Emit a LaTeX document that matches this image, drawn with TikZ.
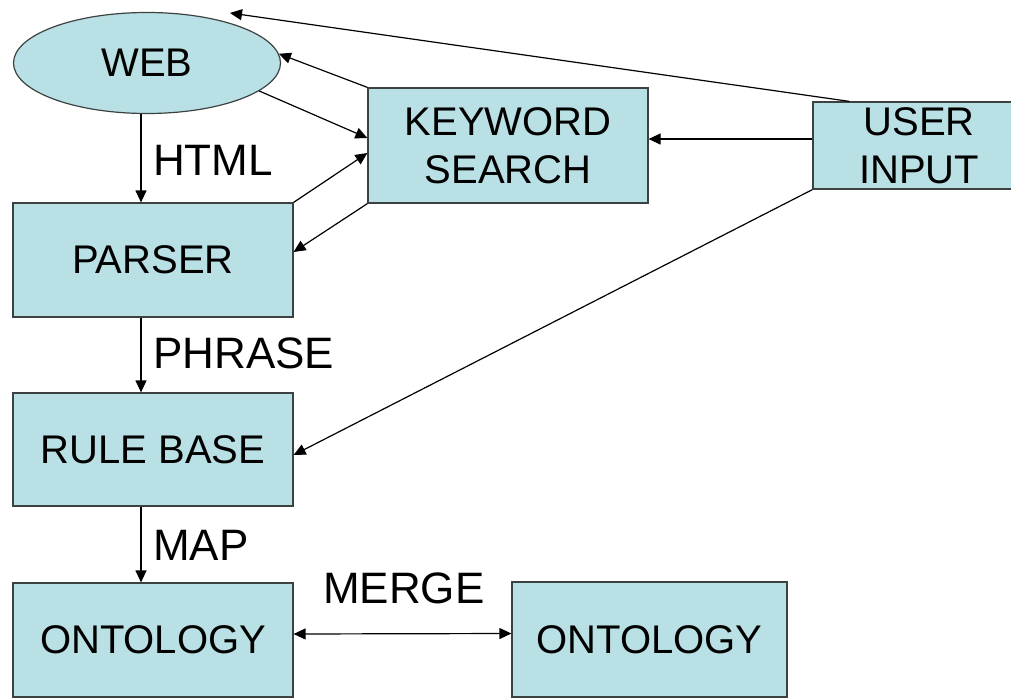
\documentclass[tikz,border=0pt]{standalone}
\usepackage{fontspec}
\setmainfont{Liberation Sans}
\usetikzlibrary{arrows.meta,shapes.geometric}
\definecolor{boxfill}{RGB}{185,224,228}
\definecolor{boxline}{RGB}{60,66,66}
\tikzset{
  block/.style={draw=boxline, fill=boxfill, line width=1.2pt, rectangle,
    inner sep=0pt, align=center, font=\fontsize{40}{48}\selectfont},
  cloud/.style={draw=boxline, fill=boxfill, line width=1.2pt, ellipse,
    inner sep=0pt, font=\fontsize{40}{48}\selectfont},
  flow/.style={draw=black, line width=1.2pt, -{Triangle[length=12pt,width=11pt]}},
  both/.style={draw=black, line width=1.2pt, {Triangle[length=12pt,width=11pt]}-{Triangle[length=12pt,width=11pt]}},
  tag/.style={anchor=base west, inner sep=0pt, font=\fontsize{44}{50}\selectfont}
}
\begin{document}
\begin{tikzpicture}[x=1pt,y=-1pt]
  \useasboundingbox (0,0) rectangle (1011,698);

  % boxes
  \node[cloud, minimum width=267pt, minimum height=101pt] (web) at (147,63) {WEB};
  \node[block, minimum width=280pt, minimum height=115pt] (kw) at (508,145.5) {KEYWORD\\SEARCH};
  \node[block, minimum width=212pt, minimum height=87pt] (user) at (919,145.5) {USER\\INPUT};
  \node[block, minimum width=280pt, minimum height=114pt] (parser) at (153,260) {PARSER};
  \node[block, minimum width=280pt, minimum height=113pt] (rule) at (153,449.5) {RULE BASE};
  \node[block, minimum width=280pt, minimum height=114pt] (ont1) at (153,640) {ONTOLOGY};
  \node[block, minimum width=275pt, minimum height=115pt] (ont2) at (649.5,639.5) {ONTOLOGY};

  % free end of the user query arrow
  \coordinate (topend) at (230,13);

  % connectors
  \draw[flow] ([xshift=37pt]user.north west) -- (topend);
  \draw[flow] (kw.north west) -- (web.4);
  \draw[flow] (web.-14) -- ([yshift=7.5pt]kw.west);
  \draw[flow] (parser.north east) -- ([yshift=-7.5pt]kw.west);
  \draw[flow] (kw.south west) -- ([yshift=8pt]parser.east);
  \draw[flow] ([yshift=6.5pt]user.west) -- ([yshift=6.5pt]kw.east);
  \draw[flow] (user.south west) -- ([yshift=-5.5pt]rule.east);
  \draw[flow] ([xshift=-6pt]web.south) -- ([xshift=-12pt]parser.north);
  \draw[flow] ([xshift=-12pt]parser.south) -- ([xshift=-12pt]rule.north);
  \draw[flow] ([xshift=-12pt]rule.south) -- ([xshift=-12pt]ont1.north);
  \draw[both] ([yshift=6pt]ont1.east) -- ([yshift=6pt]ont2.west);

  % connector labels
  \node[tag] (lhtml) at (153,175) {HTML};
  \node[tag] (lphrase) at (153,368) {PHRASE};
  \node[tag] (lmap) at (153,560) {MAP};
  \node[tag] (lmerge) at (323,603) {MERGE};
\end{tikzpicture}
\end{document}
